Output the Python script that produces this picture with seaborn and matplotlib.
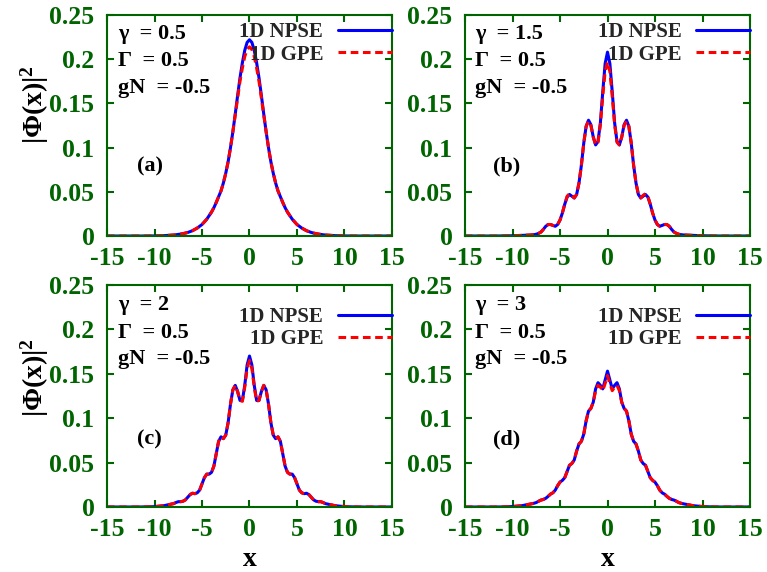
import numpy as np
import matplotlib
matplotlib.use('Agg')
import matplotlib.pyplot as plt
from matplotlib.ticker import FuncFormatter
import seaborn as sns

# x grid: coarse in the tails, fine in the middle
x = np.concatenate([np.arange(-15, -8), np.arange(-8, 8.001, 0.25), np.arange(9, 16)])

# (a) gamma = 0.5
npse_a = [0, 0, 0, 0, 0, 0.0001, 0.0004,
          0.0011, 0.0014, 0.0018, 0.0022, 0.0027, 0.0033, 0.004, 0.005,
          0.006, 0.0075, 0.009, 0.011, 0.013, 0.016, 0.019, 0.023,
          0.027, 0.032, 0.038, 0.0445, 0.051, 0.060, 0.071, 0.084,
          0.100, 0.118, 0.138, 0.159, 0.179, 0.196, 0.210, 0.219,
          0.222,
          0.219, 0.210, 0.196, 0.179, 0.159, 0.138, 0.118, 0.100,
          0.084, 0.071, 0.060, 0.051, 0.0445, 0.038, 0.032, 0.027,
          0.023, 0.019, 0.016, 0.013, 0.011, 0.009, 0.0075, 0.006,
          0.005, 0.004, 0.0033, 0.0027, 0.0022, 0.0018, 0.0014, 0.0011,
          0.0004, 0.0001, 0, 0, 0, 0, 0]
gpe_a = [0, 0, 0, 0, 0, 0.0001, 0.0004,
         0.0011, 0.0014, 0.0018, 0.0022, 0.0027, 0.0033, 0.004, 0.005,
         0.006, 0.0075, 0.009, 0.011, 0.013, 0.016, 0.019, 0.023,
         0.027, 0.032, 0.038, 0.0445, 0.051, 0.060, 0.071, 0.084,
         0.100, 0.118, 0.137, 0.156, 0.175, 0.190, 0.203, 0.211,
         0.214,
         0.211, 0.203, 0.190, 0.175, 0.156, 0.137, 0.118, 0.100,
         0.084, 0.071, 0.060, 0.051, 0.0445, 0.038, 0.032, 0.027,
         0.023, 0.019, 0.016, 0.013, 0.011, 0.009, 0.0075, 0.006,
         0.005, 0.004, 0.0033, 0.0027, 0.0022, 0.0018, 0.0014, 0.0011,
         0.0004, 0.0001, 0, 0, 0, 0, 0]

# (b) gamma = 1.5
npse_b = [0, 0, 0, 0, 0.0001, 0.0003, 0.0007,
          0.0012, 0.0015, 0.002, 0.003, 0.0045, 0.0075, 0.011, 0.013,
          0.013, 0.012, 0.011, 0.013, 0.018, 0.026, 0.036, 0.044,
          0.047, 0.045, 0.043, 0.047, 0.060, 0.080, 0.105, 0.124,
          0.131, 0.126, 0.112, 0.103, 0.107, 0.128, 0.163, 0.195,
          0.208,
          0.195, 0.163, 0.128, 0.107, 0.103, 0.112, 0.126, 0.131,
          0.124, 0.105, 0.080, 0.060, 0.047, 0.043, 0.045, 0.047,
          0.044, 0.036, 0.026, 0.018, 0.013, 0.011, 0.012, 0.013,
          0.013, 0.011, 0.0075, 0.0045, 0.003, 0.002, 0.0015, 0.0012,
          0.0007, 0.0003, 0.0001, 0, 0, 0, 0]
gpe_b = [0, 0, 0, 0, 0.0001, 0.0003, 0.0007,
         0.0012, 0.0015, 0.002, 0.003, 0.0045, 0.0075, 0.011, 0.013,
         0.013, 0.012, 0.011, 0.013, 0.018, 0.026, 0.036, 0.045,
         0.048, 0.046, 0.043, 0.047, 0.060, 0.080, 0.105, 0.124,
         0.130, 0.125, 0.112, 0.103, 0.106, 0.126, 0.158, 0.186,
         0.197,
         0.186, 0.158, 0.126, 0.106, 0.103, 0.112, 0.125, 0.130,
         0.124, 0.105, 0.080, 0.060, 0.047, 0.043, 0.046, 0.048,
         0.045, 0.036, 0.026, 0.018, 0.013, 0.011, 0.012, 0.013,
         0.013, 0.011, 0.0075, 0.0045, 0.003, 0.002, 0.0015, 0.0012,
         0.0007, 0.0003, 0.0001, 0, 0, 0, 0]

# (c) gamma = 2
npse_c = [0, 0, 0, 0, 0.0001, 0.0004, 0.0015,
          0.0038, 0.005, 0.006, 0.006, 0.0065, 0.008, 0.011, 0.014,
          0.0155, 0.015, 0.016, 0.019, 0.026, 0.033, 0.037, 0.037,
          0.039, 0.046, 0.060, 0.074, 0.079, 0.077, 0.081, 0.095,
          0.116, 0.132, 0.137, 0.130, 0.120, 0.120, 0.137, 0.160,
          0.170,
          0.160, 0.137, 0.120, 0.120, 0.130, 0.137, 0.132, 0.116,
          0.095, 0.081, 0.077, 0.079, 0.074, 0.060, 0.046, 0.039,
          0.037, 0.037, 0.033, 0.026, 0.019, 0.016, 0.015, 0.0155,
          0.014, 0.011, 0.008, 0.0065, 0.006, 0.006, 0.005, 0.0038,
          0.0015, 0.0004, 0.0001, 0, 0, 0, 0]
gpe_c = [0, 0, 0, 0, 0.0001, 0.0004, 0.0015,
         0.0038, 0.005, 0.006, 0.006, 0.0065, 0.008, 0.011, 0.014,
         0.0155, 0.015, 0.016, 0.019, 0.026, 0.033, 0.037, 0.037,
         0.039, 0.046, 0.060, 0.074, 0.079, 0.077, 0.081, 0.095,
         0.116, 0.132, 0.137, 0.130, 0.120, 0.119, 0.135, 0.156,
         0.165,
         0.156, 0.135, 0.119, 0.120, 0.130, 0.137, 0.132, 0.116,
         0.095, 0.081, 0.077, 0.079, 0.074, 0.060, 0.046, 0.039,
         0.037, 0.037, 0.033, 0.026, 0.019, 0.016, 0.015, 0.0155,
         0.014, 0.011, 0.008, 0.0065, 0.006, 0.006, 0.005, 0.0038,
         0.0015, 0.0004, 0.0001, 0, 0, 0, 0]

# (d) gamma = 3
npse_d = [0, 0, 0, 0, 0.0001, 0.0005, 0.0015,
          0.0036, 0.0042, 0.005, 0.0065, 0.0078, 0.0085, 0.0098, 0.012,
          0.0145, 0.016, 0.019, 0.024, 0.028, 0.030, 0.033, 0.040,
          0.047, 0.049, 0.053, 0.063, 0.071, 0.074, 0.082, 0.097,
          0.108, 0.111, 0.118, 0.133, 0.140, 0.137, 0.133, 0.143,
          0.153,
          0.143, 0.133, 0.137, 0.140, 0.133, 0.118, 0.111, 0.108,
          0.097, 0.082, 0.074, 0.071, 0.063, 0.053, 0.049, 0.047,
          0.040, 0.033, 0.030, 0.028, 0.024, 0.019, 0.016, 0.0145,
          0.012, 0.0098, 0.0085, 0.0078, 0.0065, 0.005, 0.0042, 0.0036,
          0.0015, 0.0005, 0.0001, 0, 0, 0, 0]
gpe_d = [0, 0, 0, 0, 0.0001, 0.0005, 0.0015,
         0.0036, 0.0042, 0.005, 0.0065, 0.0078, 0.0085, 0.0098, 0.012,
         0.0145, 0.016, 0.019, 0.024, 0.028, 0.030, 0.033, 0.040,
         0.047, 0.049, 0.053, 0.063, 0.071, 0.074, 0.082, 0.097,
         0.108, 0.111, 0.118, 0.131, 0.137, 0.135, 0.131, 0.139,
         0.148,
         0.139, 0.131, 0.135, 0.137, 0.131, 0.118, 0.111, 0.108,
         0.097, 0.082, 0.074, 0.071, 0.063, 0.053, 0.049, 0.047,
         0.040, 0.033, 0.030, 0.028, 0.024, 0.019, 0.016, 0.0145,
         0.012, 0.0098, 0.0085, 0.0078, 0.0065, 0.005, 0.0042, 0.0036,
         0.0015, 0.0005, 0.0001, 0, 0, 0, 0]

gammas = ['0.5', '1.5', '2', '3']
tags = ['(a)', '(b)', '(c)', '(d)']

sns.set_style('ticks')
plt.rcParams['font.family'] = ['Liberation Serif', 'DejaVu Serif']
plt.rcParams['font.weight'] = 'bold'
plt.rcParams['mathtext.fontset'] = 'custom'
plt.rcParams['mathtext.rm'] = 'Liberation Serif:bold'
plt.rcParams['mathtext.it'] = 'Liberation Serif:bold'
plt.rcParams['mathtext.bf'] = 'Liberation Serif:bold'

green = '#006400'
W, H = 767, 572
fig = plt.figure(figsize=(W / 100, H / 100), dpi=100)

# axes boxes in pixels: left, top, right, bottom
boxes = [(107, 15, 392, 236), (465, 15, 750, 236),
         (107, 285, 392, 507), (465, 285, 750, 507)]
data = [(npse_a, gpe_a), (npse_b, gpe_b), (npse_c, gpe_c), (npse_d, gpe_d)]

for i, (l, t, r, b) in enumerate(boxes):
    ax = fig.add_axes([l / W, 1 - b / H, (r - l) / W, (b - t) / H])
    npse, gpe = data[i]
    sns.lineplot(x=x, y=npse, ax=ax, color='#0000ff', lw=2.2, label='1D NPSE',
                 estimator=None, sort=False)
    sns.lineplot(x=x, y=gpe, ax=ax, color='#ff0000', lw=2.2, label='1D GPE',
                 estimator=None, sort=False, linestyle=(0, (2.5, 1.5)))
    ax.set_xlim(-15, 15)
    ax.set_ylim(0, 0.25)
    ax.set_xticks(np.arange(-15, 16, 5))
    ax.set_yticks(np.arange(0, 0.2501, 0.05))
    fmt = FuncFormatter(lambda v, p: f'{v:g}' if abs(v) > 1e-9 else '0')
    ax.xaxis.set_major_formatter(fmt)
    ax.yaxis.set_major_formatter(fmt)
    ax.tick_params(direction='in', length=5, width=1.5, color=green,
                   top=True, right=True, labelsize=18.5, labelcolor=green)
    ax.tick_params(axis='x', pad=8)
    ax.tick_params(axis='y', pad=9)
    for lab in ax.get_xticklabels() + ax.get_yticklabels():
        lab.set_fontweight('bold')
    for sp in ax.spines.values():
        sp.set_visible(True)
        sp.set_color(green)
        sp.set_linewidth(1.5)
    ax.set_xlabel('')
    ax.set_ylabel('')

    top_off = 7 if i < 2 else 22
    ax.legend(loc='upper right', bbox_to_anchor=(1.0, 1 - top_off / (b - t)),
              frameon=False, markerfirst=False, handlelength=2.6,
              handletextpad=0.7, labelspacing=0.12, borderpad=0, borderaxespad=0,
              prop={'family': 'Liberation Serif', 'weight': 'bold', 'size': 15})

    tx = 0.038 if i % 2 == 0 else 0.035
    if i < 2:
        ys = [0.914, 0.792, 0.670]
    else:
        ys = [0.91, 0.784, 0.667]
    lines = ['\u03b3  = ' + gammas[i], '\u0393  = 0.5', 'gN  = -0.5']
    for s, yy in zip(lines, ys):
        ax.text(tx, yy, s, transform=ax.transAxes, ha='left', va='center',
                fontsize=16, fontweight='bold', color='black')
    ax.text(0.105 if i % 2 == 0 else 0.098, 0.315 if i < 2 else 0.302, tags[i],
            transform=ax.transAxes, ha='left', va='center',
            fontsize=16, fontweight='bold', color='black')

for yc in [105, 378]:
    fig.text(35 / W, 1 - yc / H, r'$|\Phi(\mathbf{x})|^2$', rotation=90,
             ha='center', va='center', fontsize=20, color='black')
for xc in [249.5, 607.5]:
    fig.text(xc / W, 1 - 566 / H, 'x', ha='center', va='baseline',
             fontsize=20, fontweight='bold', color='black')

fig.savefig('out.png', dpi=100)
